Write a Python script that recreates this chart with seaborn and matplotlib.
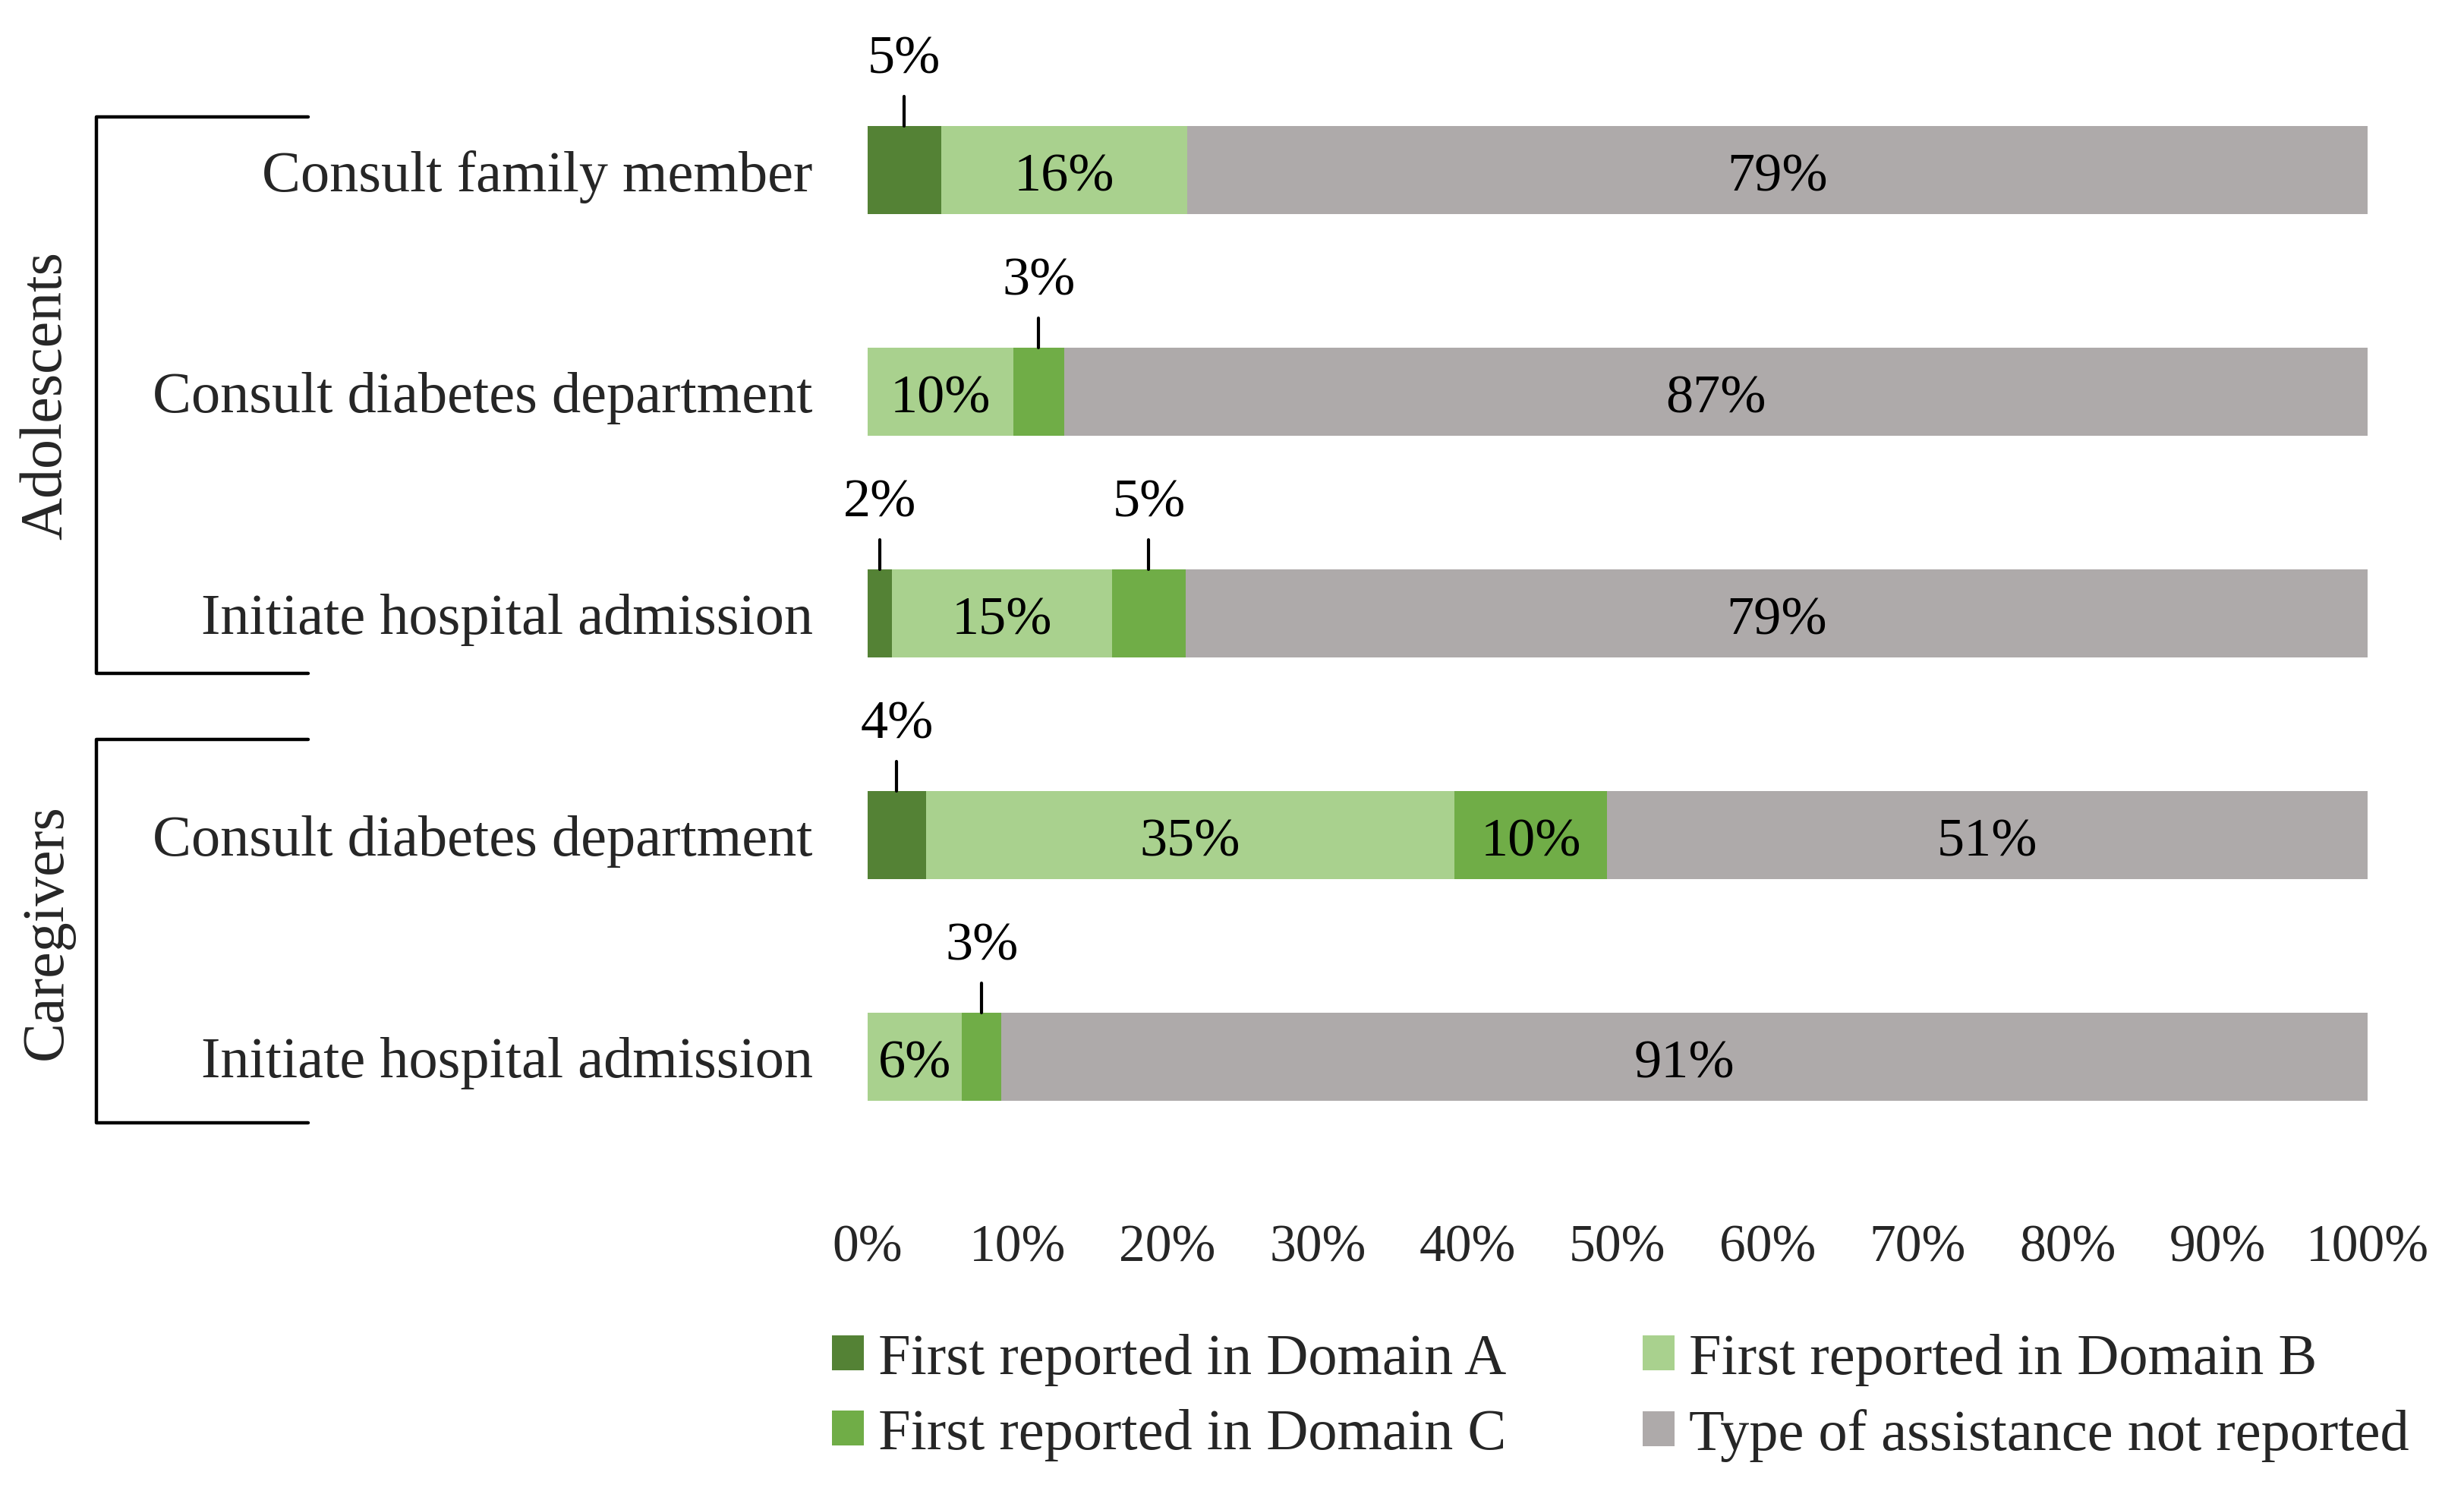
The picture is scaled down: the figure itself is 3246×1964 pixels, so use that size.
import matplotlib
matplotlib.use("Agg")
import matplotlib.pyplot as plt
import matplotlib.transforms as mtransforms
from matplotlib.patches import Patch
import seaborn as sns
import pandas as pd
import numpy as np

# data (share of respondents, %)
groups = ["Adolescents", "Adolescents", "Adolescents", "Caregivers", "Caregivers"]
actions = ["Consult family member", "Consult diabetes department", "Initiate hospital admission",
           "Consult diabetes department", "Initiate hospital admission"]
domain_a = [4.9, 0.0, 1.6, 3.9, 0.0]
domain_b = [16.4, 9.7, 14.7, 35.2, 6.3]
domain_c = [0.0, 3.4, 4.9, 10.2, 2.6]
not_reported = [78.7, 86.9, 78.8, 50.7, 91.1]

series_names = ["First reported in Domain A", "First reported in Domain B",
                "First reported in Domain C", "Type of assistance not reported"]
colors = ["#548235", "#A9D18E", "#70AD47", "#AEAAAA"]

sns.set_theme(style="white")
plt.rcParams["font.family"] = ["Liberation Serif", "DejaVu Serif"]
fs_num = 26      # percentage labels on the bars
fs_tick = 25     # x tick labels
fs_word = 27.5   # category and legend labels
fs_group = 28

df = pd.DataFrame({
    "key": [g + "|" + a for g, a in zip(groups, actions)],
    "a": domain_a, "b": domain_b, "c": domain_c, "n": not_reported,
})
df["cum_a"] = df["a"]
df["cum_b"] = df["cum_a"] + df["b"]
df["cum_c"] = df["cum_b"] + df["c"]
df["cum_n"] = df["cum_c"] + df["n"]

fig = plt.figure(figsize=(16.23, 9.825), dpi=200)
ax = fig.add_axes([0.3521, 0.2020, 0.6088, 0.7578])

# stacked bars: draw cumulative totals from the back to the front
bar_h = 0.397
for col, c in zip(["cum_n", "cum_c", "cum_b", "cum_a"], colors[::-1]):
    sns.barplot(data=df, x=col, y="key", orient="h", color=c, saturation=1,
                width=bar_h, linewidth=0, errorbar=None, ax=ax)

ax.set_xlim(0, 100)
ax.set_ylim(4.6, -0.5)
ax.set_xticks(np.arange(0, 101, 10))
ax.set_xticklabels([f"{t}%" for t in range(0, 101, 10)], fontsize=fs_tick)
ax.set_yticks(range(len(actions)))
ax.set_yticklabels(actions, fontsize=fs_word)
ax.tick_params(axis="x", length=0, pad=16)
ax.tick_params(axis="y", length=0, pad=26)
ax.set_xlabel("")
ax.set_ylabel("")
sns.despine(ax=ax, left=True, bottom=True)

# segment labels
for i in range(len(df)):
    start = 0.0
    for v in [domain_a[i], domain_b[i], domain_c[i], not_reported[i]]:
        if v > 0:
            mid = start + v / 2
            lab = f"{int(round(v))}%"
            if v >= 5.5:
                ax.text(mid, i + 0.03, lab, ha="center", va="center", fontsize=fs_num, color="black")
            else:
                ax.plot([mid, mid], [i - bar_h / 2, i - 0.333], color="black", lw=1.5, clip_on=False)
                ax.text(mid, i - 0.50, lab, ha="center", va="center", fontsize=fs_num, color="black")
        start += v

# group brackets on the left
trans = mtransforms.blended_transform_factory(fig.transFigure, ax.transData)
brackets = [("Adolescents", -0.24, 2.27), ("Caregivers", 2.57, 4.30)]
for name, y0, y1 in brackets:
    x_v, x_h = 0.039, 0.125
    ax.plot([x_h, x_v, x_v, x_h], [y0, y0, y1, y1], color="black", lw=1.6,
            transform=trans, clip_on=False)
    ax.text(0.019, (y0 + y1) / 2, name, rotation=90, ha="center", va="center",
            fontsize=fs_group, transform=trans)

# legend
handles = [Patch(facecolor=c, edgecolor="none") for c in colors]
order = [0, 2, 1, 3]
fig.legend([handles[k] for k in order], [series_names[k] for k in order],
           ncol=2, loc="upper left", bbox_to_anchor=(0.3376, 0.106), frameon=False,
           fontsize=fs_word, handlelength=0.55, handleheight=0.55, handletextpad=0.25,
           columnspacing=2.35, labelspacing=0.4, borderpad=0, borderaxespad=0)

fig.savefig("out.png", dpi=200, facecolor="white")
